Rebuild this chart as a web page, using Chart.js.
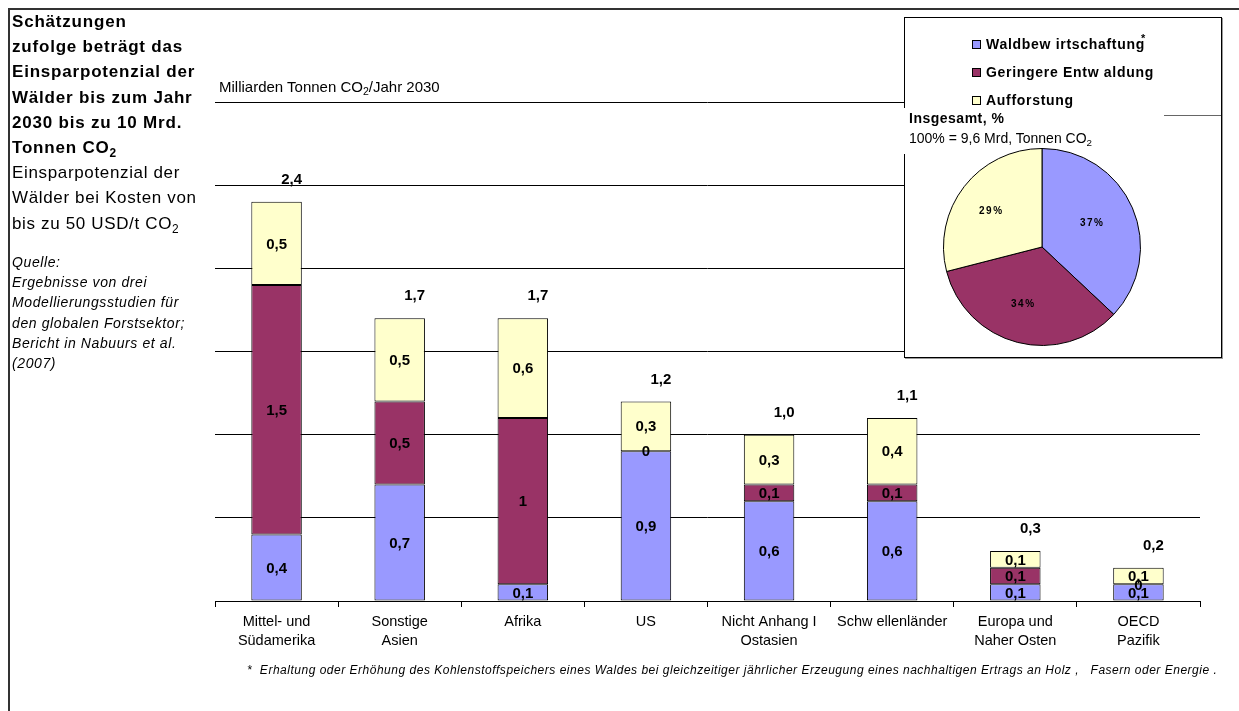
<!DOCTYPE html>
<html>
<head>
<meta charset="utf-8">
<script src="https://cdn.jsdelivr.net/npm/chart.js@4"></script>
<style>
  body { margin: 0; background: #fff; font-family: "Liberation Sans", Arial, sans-serif; color: #000; }
  #page { position: relative; width: 1239px; height: 711px; overflow: hidden; }
  #barCanvas { position: absolute; left: 0; top: 0; }
  .abs { position: absolute; white-space: nowrap; }
  .sub { font-size: 0.7em; vertical-align: -0.3em; line-height: 0; }
  #frameTop { left: 8px; top: 8px; width: 1231px; height: 2px; background: #333; }
  #frameLeft { left: 8px; top: 8px; width: 2px; height: 703px; background: #333; }
  #pieBox { left: 904px; top: 17px; width: 316px; height: 339px; background: #fff; border: 1px solid #000; box-shadow: 1px 1px 0 #999; }
  .legItem { position: absolute; left: 67px; font-weight: bold; font-size: 14px; letter-spacing: 0.7px; line-height: 14px; }
  .legBox { display: inline-block; width: 7px; height: 7px; border: 1px solid #000; margin-right: 5px; }
</style>
</head>
<body>
<div id="page">
  <canvas id="barCanvas" width="1239" height="711"></canvas>
  <div id="frameTop" class="abs"></div>
  <div id="frameLeft" class="abs"></div>

  <div class="abs" style="left:12px; top:9px; font-size:17px; line-height:25.2px;">
    <b style="letter-spacing:0.8px;">Schätzungen<br>zufolge beträgt das<br>Einsparpotenzial der<br>Wälder bis zum Jahr<br>2030 bis zu 10 Mrd.<br>Tonnen CO<span class="sub">2</span></b><br>
    <span style="letter-spacing:0.65px;">Einsparpotenzial der<br>Wälder bei Kosten von<br>bis zu 50 USD/t CO<span class="sub">2</span></span>
  </div>
  <div class="abs" style="left:12px; top:252px; font-size:14px; line-height:20.2px; font-style:italic; letter-spacing:0.6px;">
    Quelle:<br>Ergebnisse von drei<br>Modellierungsstudien für<br>den globalen Forstsektor;<br>Bericht in Nabuurs et al.<br>(2007)
  </div>

  <div class="abs" style="left:219px; top:80px; font-size:15px; line-height:14px;">Milliarden Tonnen CO<span class="sub">2</span>/Jahr 2030</div>

  <div class="abs" id="footnote" style="left:247px; top:664px; font-size:12px; line-height:12px; font-style:italic;">*&nbsp; Erhaltung oder Erhöhung des Kohlenstoffspeichers eines Waldes bei gleichzeitiger jährlicher Erzeugung eines nachhaltigen Ertrags an Holz&nbsp;,&nbsp;&nbsp; Fasern oder Energie&nbsp;.</div>

  <div id="pieBox" class="abs">
    <div id="legend"></div>
    <div class="abs" style="left:-5px; top:90px; width:259px; height:46px; background:#fff;"></div>
    <div class="abs" style="left:259px; top:97px; width:57px; height:1px; background:#666;"></div>
    <div class="abs" style="left:4px; top:93px; font-size:14px; line-height:14px; font-weight:bold; letter-spacing:0.5px;">Insgesamt, %</div>
    <div class="abs" style="left:4px; top:113px; font-size:14px; line-height:14px;">100% = 9,6 Mrd, Tonnen CO<span class="sub">2</span></div>
    <canvas id="pieCanvas" width="198" height="198" class="abs" style="left:38px; top:130px;"></canvas>
  </div>
</div>

<script>
// chart data
const categories = [
  ['Mittel- und', 'Südamerika'],
  ['Sonstige', 'Asien'],
  'Afrika',
  'US',
  ['Nicht Anhang I', 'Ostasien'],
  'Schw ellenländer',
  ['Europa und', 'Naher Osten'],
  ['OECD', 'Pazifik']
];
const seriesNames = ['Waldbew irtschaftung', 'Geringere Entw aldung', 'Aufforstung'];
const waldbewirtschaftung = [0.4, 0.7, 0.1, 0.9, 0.6, 0.6, 0.1, 0.1];
const entwaldung = [1.5, 0.5, 1.0, 0, 0.1, 0.1, 0.1, 0];
const aufforstung = [0.5, 0.5, 0.6, 0.3, 0.3, 0.4, 0.1, 0.1];
const totals = [2.4, 1.7, 1.7, 1.2, 1.0, 1.1, 0.3, 0.2];
const yTicks = [0, 0.5, 1, 1.5, 2, 2.5, 3];

const pieLabels = seriesNames;
const pieValues = [37, 34, 29];

const colors = ['#9999FF', '#993366', '#FFFFCC'];
const fontFamily = '"Liberation Sans", Arial, sans-serif';

// stretch the footnote to the width it has in the original
const foot = document.getElementById('footnote');
const footWidth = 970;
foot.style.letterSpacing = ((footWidth - foot.offsetWidth) / foot.textContent.length) + 'px';

// legend (html)
const legend = document.getElementById('legend');
seriesNames.forEach(function(name, i) {
  const item = document.createElement('div');
  item.className = 'legItem';
  item.style.top = (19 + i * 28) + 'px';
  item.innerHTML = '<span class="legBox" style="background:' + colors[i] + '"></span>' + name +
    (i === 0 ? '<span style="position:absolute; font-size:11px; top:-6px; margin-left:-4px;">*</span>' : '');
  legend.appendChild(item);
});

function fmt(v) {
  return String(v).replace('.', ',');
}

// value labels inside the bars + totals above
const barLabels = {
  id: 'barLabels',
  afterDatasetsDraw(chart) {
    const ctx = chart.ctx;
    ctx.save();
    ctx.fillStyle = '#000';
    ctx.font = 'bold 15px ' + fontFamily;
    ctx.textAlign = 'center';
    ctx.textBaseline = 'middle';
    chart.data.datasets.forEach(function(ds, di) {
      chart.getDatasetMeta(di).data.forEach(function(bar, i) {
        ctx.fillText(fmt(ds.data[i]), bar.x, (bar.y + bar.base) / 2 + 1);
      });
    });
    const top = chart.getDatasetMeta(2).data;
    totals.forEach(function(t, i) {
      ctx.fillText(t.toFixed(1).replace('.', ','), top[i].x + 15, chart.scales.y.getPixelForValue(t) - 22);
    });
    ctx.restore();
  }
};

new Chart(document.getElementById('barCanvas').getContext('2d'), {
  type: 'bar',
  data: {
    labels: categories,
    datasets: [
      { label: seriesNames[0], data: waldbewirtschaftung, backgroundColor: colors[0] },
      { label: seriesNames[1], data: entwaldung, backgroundColor: colors[1] },
      { label: seriesNames[2], data: aufforstung, backgroundColor: colors[2] }
    ].map(function(d) {
      d.borderColor = '#000';
      d.borderWidth = 1;
      d.borderSkipped = false;
      d.barPercentage = 0.41;
      d.categoryPercentage = 1;
      return d;
    })
  },
  options: {
    responsive: false,
    animation: false,
    layout: { padding: { left: 215, right: 39, top: 102, bottom: 0 } },
    plugins: { legend: { display: false }, tooltip: { enabled: false } },
    scales: {
      x: {
        stacked: true,
        grid: { offset: true, drawOnChartArea: false, tickLength: 6, color: '#000' },
        border: { color: '#000' },
        ticks: { color: '#000', font: { family: fontFamily, size: 14.5, lineHeight: 1.3 }, padding: 6, maxRotation: 0, autoSkip: false },
        afterFit: function(s) { s.height = 110; }
      },
      y: {
        stacked: true,
        min: 0,
        max: 3,
        afterBuildTicks: function(s) { s.ticks = yTicks.map(function(v) { return { value: v }; }); },
        ticks: { display: false },
        grid: { color: '#000', drawTicks: false },
        border: { display: false },
        afterFit: function(s) { s.width = 0; }
      }
    }
  },
  plugins: [barLabels]
});

// pie labels
const pieText = {
  id: 'pieText',
  afterDatasetsDraw(chart) {
    const ctx = chart.ctx;
    ctx.save();
    ctx.fillStyle = '#000';
    ctx.font = 'bold 10px ' + fontFamily;
    ctx.letterSpacing = '1.5px';
    ctx.textAlign = 'center';
    ctx.textBaseline = 'middle';
    chart.getDatasetMeta(0).data.forEach(function(arc, i) {
      const a = (arc.startAngle + arc.endAngle) / 2;
      const r = arc.outerRadius * 0.6;
      ctx.fillText(pieValues[i] + '%', arc.x + Math.cos(a) * r - 4, arc.y + Math.sin(a) * r);
    });
    ctx.restore();
  }
};

new Chart(document.getElementById('pieCanvas').getContext('2d'), {
  type: 'pie',
  data: {
    labels: pieLabels,
    datasets: [{ data: pieValues, backgroundColor: colors, borderColor: '#000', borderWidth: 1 }]
  },
  options: {
    responsive: false,
    animation: false,
    plugins: { legend: { display: false }, tooltip: { enabled: false } }
  },
  plugins: [pieText]
});
</script>
</body>
</html>
